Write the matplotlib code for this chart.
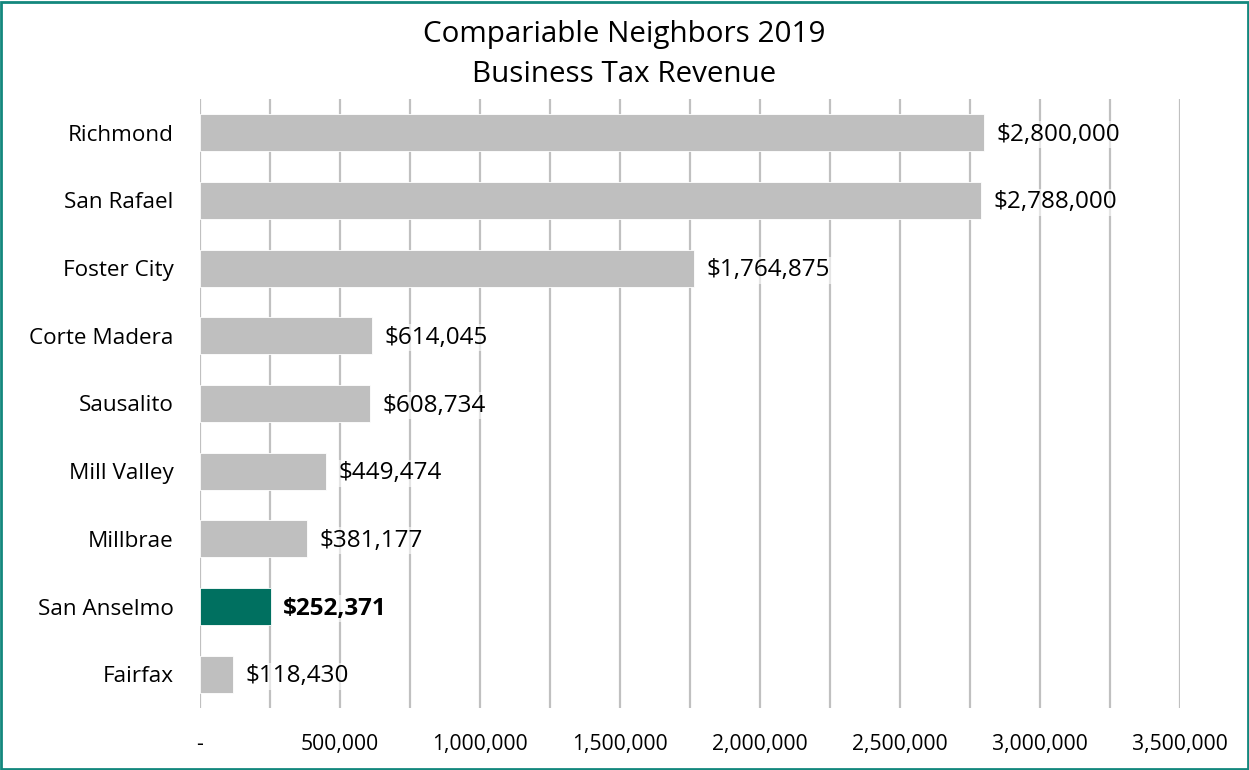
import matplotlib.pyplot as plt
from matplotlib.patches import Rectangle
from matplotlib.ticker import MultipleLocator, FuncFormatter

plt.rcParams['font.family'] = ['Open Sans', 'DejaVu Sans']

# city business tax revenue, 2019
cities = ['Richmond', 'San Rafael', 'Foster City', 'Corte Madera', 'Sausalito',
          'Mill Valley', 'Millbrae', 'San Anselmo', 'Fairfax']
revenue = [2800000, 2788000, 1764875, 614045, 608734, 449474, 381177, 252371, 118430]
highlight = 'San Anselmo'

grey = '#bfbfbf'
teal = '#007060'

fig = plt.figure(figsize=(12.49, 7.70), dpi=100)
ax = fig.add_axes([0.160, 0.0805, 0.785, 0.791])

ypos = list(range(len(cities)))
colors = [teal if c == highlight else grey for c in cities]
ax.barh(ypos, revenue, height=0.55, color=colors, edgecolor='white', linewidth=0.6, zorder=2)

for y, c, v in zip(ypos, cities, revenue):
    bold = c == highlight
    ax.text(v + 45000, y + 0.03, '${:,.0f}'.format(v), va='center', ha='left', fontsize=17.5,
            fontweight='bold' if bold else 'normal', color='black', zorder=3,
            bbox=dict(facecolor='white', edgecolor='none', alpha=0.6, pad=1))

ax.set_yticks(ypos)
ax.set_yticklabels(cities, fontsize=16.2)
ax.set_ylim(len(cities) - 0.5, -0.5)
ax.set_xlim(0, 3500000)

ax.xaxis.set_major_locator(MultipleLocator(500000))
ax.xaxis.set_minor_locator(MultipleLocator(250000))
ax.xaxis.set_major_formatter(FuncFormatter(lambda x, p: '-' if x == 0 else '{:,.0f}'.format(x)))
ax.tick_params(axis='x', labelsize=15.2, length=0, pad=19, which='both')
ax.tick_params(axis='y', length=0, pad=19)
ax.grid(axis='x', which='both', color='#c0c0c0', linewidth=1.6, zorder=0)
ax.set_axisbelow(True)
for s in ax.spines.values():
    s.set_visible(False)

fig.suptitle('Compariable Neighbors 2019\nBusiness Tax Revenue', fontsize=21.3, y=0.974,
             linespacing=1.5)

# outer frame
fig.patches.append(Rectangle((0.001, 0.001), 0.998, 0.997, transform=fig.transFigure,
                             fill=False, edgecolor='#13877d', linewidth=2))

fig.savefig('out.png', dpi=100)
